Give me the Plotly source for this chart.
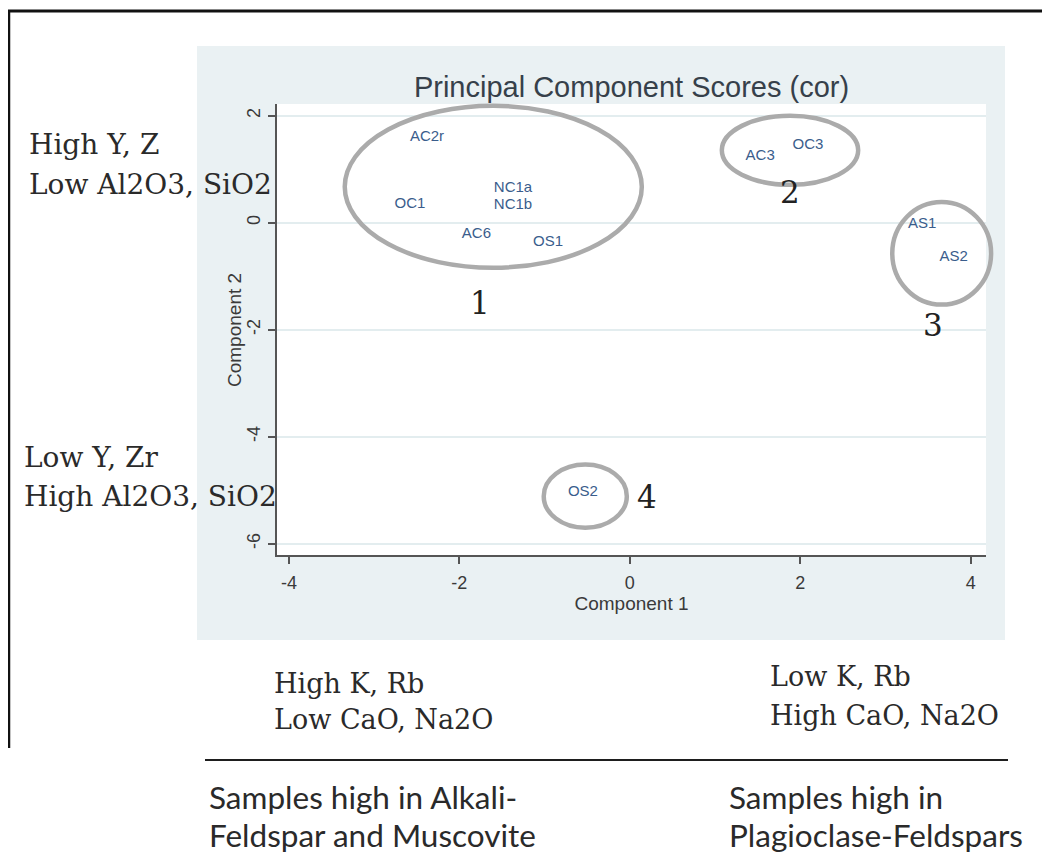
import plotly.graph_objects as go

# ---------------- data ----------------
sample_labels = ["AC2r", "OC1", "NC1a", "NC1b", "AC6", "OS1", "AC3", "OC3", "AS1", "AS2", "OS2"]
component1 = [-2.38, -2.58, -1.37, -1.37, -1.80, -0.96, 1.53, 2.09, 3.43, 3.80, -0.55]
component2 = [1.59, 0.34, 0.64, 0.33, -0.22, -0.36, 1.25, 1.44, -0.02, -0.64, -5.03]

x_tick_values = [-4, -2, 0, 2, 4]
x_tick_labels = ["-4", "-2", "0", "2", "4"]
y_tick_values = [2, 0, -2, -4, -6]
y_tick_labels = ["2", "0", "-2", "-4", "-6"]

cluster_names = ["1", "2", "3", "4"]
cluster_x_min = [-3.345, 1.08, 3.08, -1.01]
cluster_x_max = [0.141, 2.68, 4.24, -0.035]
cluster_y_min = [-0.841, 0.71, -1.53, -5.70]
cluster_y_max = [2.187, 2.00, 0.39, -4.52]
cluster_label_x = [-1.76, 1.88, 3.56, 0.20]
cluster_label_y = [-1.50, 0.58, -1.91, -5.12]

left_notes = ["High Y, Z", "Low Al2O3, SiO2", "Low Y, Zr", "High Al2O3, SiO2"]
bottom_notes = ["High K, Rb", "Low CaO, Na2O", "Low K, Rb", "High CaO, Na2O"]
mineral_notes = ["Samples high in Alkali-", "Feldspar and Muscovite",
                 "Samples high in", "Plagioclase-Feldspars"]

# ---------------- layout geometry ----------------
# The page body has an 8px margin, so the figure is offset by OFF pixels.
OFF = 8
W, H = 1050 - OFF, 860 - OFF
# plot-area edges in page (reference) pixels
PL, PR, PT, PB = 277, 986, 104, 555
XR = [-4.14, 4.18]
YR = [-6.21, 2.22]


def px(x):
    return (x - PL) / (PR - PL)


def py(y):
    return (PB - y) / (PB - PT)


def xd(v):
    return (v - XR[0]) / (XR[1] - XR[0])


def yd(v):
    return (v - YR[0]) / (YR[1] - YR[0])


fig = go.Figure()
fig.add_trace(go.Scatter(
    x=component1, y=component2, mode="text", text=sample_labels,
    textposition="middle center", cliponaxis=False, hoverinfo="skip",
    textfont=dict(family="Liberation Sans, Arial", size=15, color="#3a5d8c"),
    showlegend=False,
))

shapes = [
    # graph region (light bluish gray panel)
    dict(type="rect", xref="paper", yref="paper", x0=px(197), x1=px(1005),
         y0=py(640), y1=py(46), fillcolor="#EAF1F3", line=dict(width=0), layer="below"),
    # white plot region
    dict(type="rect", xref="paper", yref="paper", x0=0, x1=1, y0=0, y1=1,
         fillcolor="white", line=dict(width=0), layer="below"),
    # outer frame lines
    dict(type="line", xref="paper", yref="paper", x0=px(8), x1=px(1052),
         y0=py(11), y1=py(11), line=dict(color="#111111", width=3)),
    dict(type="line", xref="paper", yref="paper", x0=px(9), x1=px(9),
         y0=py(10), y1=py(748), line=dict(color="#111111", width=2.5)),
    # divider line at bottom
    dict(type="line", xref="paper", yref="paper", x0=px(205), x1=px(1008),
         y0=py(760), y1=py(760), line=dict(color="#1e1e1e", width=2)),
]
for i in range(len(cluster_names)):
    shapes.append(dict(
        type="circle", xref="x domain", yref="y domain",
        x0=xd(cluster_x_min[i]), x1=xd(cluster_x_max[i]),
        y0=yd(cluster_y_min[i]), y1=yd(cluster_y_max[i]),
        line=dict(color="#ababab", width=4.5), layer="above",
    ))

serif = "DejaVu Serif"
sans = "Lato"
annotations = []
for i in range(len(cluster_names)):
    annotations.append(dict(
        x=cluster_label_x[i], y=cluster_label_y[i], xref="x", yref="y",
        text=cluster_names[i], showarrow=False,
        font=dict(family=serif, size=31, color="#222222"),
    ))

left_pos = [(27, 144), (27, 184), (22, 457), (22, 496)]
for t, (x, y) in zip(left_notes, left_pos):
    annotations.append(dict(x=px(x), y=py(y), xref="paper", yref="paper", text=t,
                            showarrow=False, xanchor="left", yanchor="middle",
                            font=dict(family=serif, size=28, color="#2a2a2a")))

bottom_pos = [(272, 683), (272, 719), (768, 676), (768, 715)]
for t, (x, y) in zip(bottom_notes, bottom_pos):
    annotations.append(dict(x=px(x), y=py(y), xref="paper", yref="paper", text=t,
                            showarrow=False, xanchor="left", yanchor="middle",
                            font=dict(family=serif, size=27, color="#2a2a2a")))

mineral_pos = [(207, 797), (207, 835), (727, 797), (727, 835)]
for t, (x, y) in zip(mineral_notes, mineral_pos):
    annotations.append(dict(x=px(x), y=py(y), xref="paper", yref="paper", text=t,
                            showarrow=False, xanchor="left", yanchor="middle",
                            font=dict(family=sans, size=31.5, color="#2a2a2a")))

# y-axis title placed close to the tick labels
annotations.append(dict(x=px(234), y=py(330), xref="paper", yref="paper",
                        text="Component 2", textangle=-90, showarrow=False,
                        xanchor="center", yanchor="middle",
                        font=dict(family="Liberation Sans, Arial", size=19, color="#3a3a3a")))

axis_common = dict(
    zeroline=False, showline=True, linecolor="#555555", linewidth=1.5,
    ticks="outside", ticklen=7, tickwidth=1.5, tickcolor="#555555",
    tickfont=dict(family="Liberation Sans, Arial", size=18, color="#3a3a3a"),
    fixedrange=True,
)

fig.update_layout(
    width=W, height=H, autosize=False,
    margin=dict(l=PL - OFF, r=W - (PR - OFF), t=PT - OFF, b=H - (PB - OFF), pad=0),
    paper_bgcolor="white", plot_bgcolor="white",
    title=dict(text="Principal Component Scores (cor)", x=(PL + PR) / 2 / W - OFF / W,
               xref="container", xanchor="center", y=1 - (87 - OFF) / H, yref="container",
               yanchor="middle",
               font=dict(family="Liberation Sans, Arial", size=29, color="#36404a")),
    xaxis=dict(range=XR, tickvals=x_tick_values, ticktext=x_tick_labels,
               showgrid=False, ticklabelstandoff=4,
               title=dict(text="Component 1", standoff=1,
                          font=dict(family="Liberation Sans, Arial", size=19, color="#3a3a3a")),
               **axis_common),
    yaxis=dict(range=YR, tickvals=y_tick_values, ticktext=y_tick_labels,
               tickangle=-90, showgrid=True, gridcolor="#E3EDEF", gridwidth=1.5,
               ticklabelstandoff=1,
               **axis_common),
    shapes=shapes,
    annotations=annotations,
)

fig.write_html("out.html")
